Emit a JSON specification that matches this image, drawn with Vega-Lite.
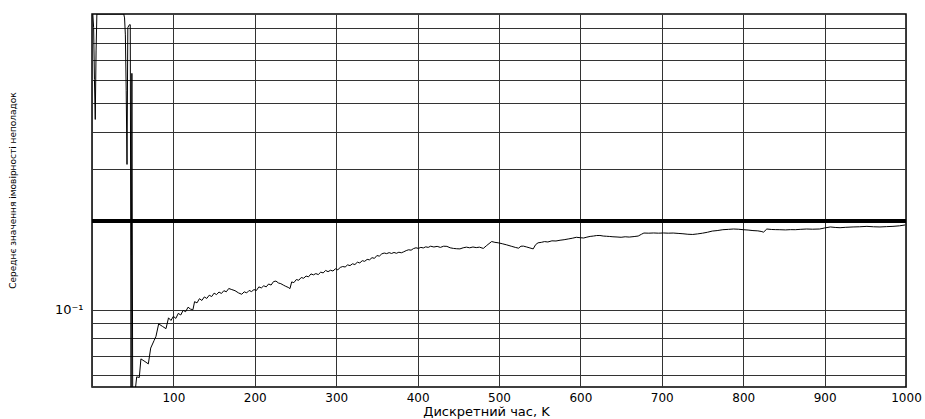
{
  "$schema": "https://vega.github.io/schema/vega-lite/v6.json",
  "width": 814,
  "height": 373,
  "autosize": {"type": "none"},
  "padding": {"left": 92, "top": 14, "right": 19, "bottom": 32},
  "background": "white",
  "config": {
    "view": {"stroke": "black", "strokeWidth": 1.5},
    "font": "DejaVu Sans"
  },
  "data": {
    "values": [
      {"k": 1, "p": 1.0}, {"k": 2, "p": 0.9}, {"k": 3, "p": 0.6}, {"k": 4, "p": 0.44}, {"k": 5, "p": 0.75}, {"k": 6, "p": 1.0},
      {"k": 20, "p": 1.0}, {"k": 39, "p": 1.0}, {"k": 40, "p": 0.97}, {"k": 41, "p": 0.85}, {"k": 42, "p": 0.55}, {"k": 43, "p": 0.31},
      {"k": 44, "p": 0.9}, {"k": 46, "p": 0.92}, {"k": 47, "p": 0.92}, {"k": 48, "p": 0.05}, {"k": 49, "p": 0.63}, {"k": 50, "p": 0.05},
      {"k": 52, "p": 0.05}, {"k": 54.9, "p": 0.0593}, {"k": 58.1, "p": 0.059}, {"k": 60.1, "p": 0.0682}, {"k": 65.1, "p": 0.0668},
      {"k": 69.2, "p": 0.0656}, {"k": 72.1, "p": 0.0742}, {"k": 76.2, "p": 0.0786}, {"k": 78.6, "p": 0.0813}, {"k": 81.9, "p": 0.0896},
      {"k": 86.4, "p": 0.0879}, {"k": 90.9, "p": 0.0863},
      {"k": 94, "p": 0.0939}, {"k": 97, "p": 0.092}, {"k": 100, "p": 0.095}, {"k": 103, "p": 0.0935}, {"k": 106, "p": 0.0972},
      {"k": 109, "p": 0.096}, {"k": 112, "p": 0.0995}, {"k": 115, "p": 0.0985}, {"k": 118, "p": 0.102}, {"k": 121, "p": 0.1005},
      {"k": 124, "p": 0.1}, {"k": 126, "p": 0.1065}, {"k": 129, "p": 0.1055}, {"k": 132, "p": 0.109}, {"k": 135, "p": 0.1075},
      {"k": 138, "p": 0.1105}, {"k": 141, "p": 0.1092}, {"k": 144, "p": 0.112}, {"k": 147, "p": 0.1108}, {"k": 150, "p": 0.1138},
      {"k": 153, "p": 0.1125}, {"k": 156, "p": 0.1148}, {"k": 159, "p": 0.1135}, {"k": 162, "p": 0.116}, {"k": 165, "p": 0.115},
      {"k": 168, "p": 0.118}, {"k": 171, "p": 0.1172}, {"k": 175.7, "p": 0.116}, {"k": 180, "p": 0.114}, {"k": 184, "p": 0.1128},
      {"k": 187, "p": 0.115}, {"k": 190, "p": 0.114}, {"k": 193, "p": 0.1162}, {"k": 196, "p": 0.1152}, {"k": 199, "p": 0.117},
      {"k": 202, "p": 0.1162}, {"k": 205, "p": 0.1195}, {"k": 208, "p": 0.1185}, {"k": 211, "p": 0.1205}, {"k": 214, "p": 0.1195},
      {"k": 217, "p": 0.1222}, {"k": 220, "p": 0.1212}, {"k": 223, "p": 0.1245}, {"k": 226, "p": 0.125}, {"k": 229, "p": 0.1232},
      {"k": 232, "p": 0.1225}, {"k": 235, "p": 0.1212}, {"k": 238, "p": 0.12}, {"k": 241, "p": 0.119}, {"k": 243.2, "p": 0.1179},
      {"k": 245.3, "p": 0.1242}, {"k": 248, "p": 0.1235}, {"k": 251, "p": 0.1265}, {"k": 254, "p": 0.1258}, {"k": 257, "p": 0.1285},
      {"k": 260, "p": 0.1278}, {"k": 263, "p": 0.13}, {"k": 266, "p": 0.1292}, {"k": 269, "p": 0.1322}, {"k": 272, "p": 0.1312},
      {"k": 275, "p": 0.1325}, {"k": 278, "p": 0.1315}, {"k": 281, "p": 0.134}, {"k": 284, "p": 0.1332}, {"k": 287, "p": 0.1358},
      {"k": 290, "p": 0.1345}, {"k": 293, "p": 0.136}, {"k": 296, "p": 0.1352}, {"k": 299, "p": 0.1375}, {"k": 302, "p": 0.1365},
      {"k": 305, "p": 0.139}, {"k": 308, "p": 0.14}, {"k": 311, "p": 0.1395}, {"k": 314, "p": 0.1418}, {"k": 317, "p": 0.141},
      {"k": 320, "p": 0.143}, {"k": 323, "p": 0.1422}, {"k": 326, "p": 0.1448}, {"k": 329, "p": 0.144}, {"k": 332, "p": 0.1465},
      {"k": 335, "p": 0.1458}, {"k": 338, "p": 0.148}, {"k": 341, "p": 0.1475}, {"k": 344, "p": 0.15}, {"k": 347, "p": 0.1492},
      {"k": 350, "p": 0.1525}, {"k": 353, "p": 0.1518}, {"k": 356, "p": 0.1545}, {"k": 359, "p": 0.1555}, {"k": 362, "p": 0.1548},
      {"k": 365, "p": 0.156}, {"k": 368, "p": 0.155}, {"k": 371, "p": 0.1562}, {"k": 374, "p": 0.1552}, {"k": 377, "p": 0.1565},
      {"k": 380, "p": 0.1558}, {"k": 383, "p": 0.157}, {"k": 386, "p": 0.1585}, {"k": 389, "p": 0.1595}, {"k": 392, "p": 0.159},
      {"k": 395, "p": 0.161}, {"k": 398, "p": 0.162}, {"k": 401, "p": 0.1612}, {"k": 404, "p": 0.1625}, {"k": 407, "p": 0.1618},
      {"k": 410, "p": 0.1632}, {"k": 413, "p": 0.1625}, {"k": 416, "p": 0.164}, {"k": 420, "p": 0.163}, {"k": 424, "p": 0.1638},
      {"k": 428, "p": 0.1625}, {"k": 432, "p": 0.164}, {"k": 436, "p": 0.1638}, {"k": 440, "p": 0.162}, {"k": 444, "p": 0.1612},
      {"k": 448, "p": 0.1608}, {"k": 452, "p": 0.1606}, {"k": 456, "p": 0.162}, {"k": 460, "p": 0.1628}, {"k": 464, "p": 0.162},
      {"k": 468, "p": 0.163}, {"k": 472, "p": 0.1622}, {"k": 476, "p": 0.1628}, {"k": 480.7, "p": 0.1612}, {"k": 485, "p": 0.165},
      {"k": 491, "p": 0.1701}, {"k": 495, "p": 0.169}, {"k": 499, "p": 0.1684}, {"k": 504, "p": 0.1672}, {"k": 509.5, "p": 0.1657},
      {"k": 515, "p": 0.164}, {"k": 520, "p": 0.1625}, {"k": 524, "p": 0.1615}, {"k": 527, "p": 0.164}, {"k": 530, "p": 0.1641},
      {"k": 534, "p": 0.163}, {"k": 538, "p": 0.1618}, {"k": 542, "p": 0.1606}, {"k": 545, "p": 0.166}, {"k": 548, "p": 0.1684},
      {"k": 552, "p": 0.169}, {"k": 556, "p": 0.17}, {"k": 560, "p": 0.1695}, {"k": 565, "p": 0.171}, {"k": 570, "p": 0.1708},
      {"k": 575, "p": 0.1718}, {"k": 580, "p": 0.1725}, {"k": 585, "p": 0.1735}, {"k": 590, "p": 0.1745}, {"k": 595, "p": 0.1758},
      {"k": 600, "p": 0.1752}, {"k": 604, "p": 0.1748}, {"k": 608, "p": 0.176}, {"k": 612, "p": 0.177}, {"k": 616, "p": 0.1775},
      {"k": 620, "p": 0.1782}, {"k": 624, "p": 0.1783}, {"k": 628, "p": 0.1775}, {"k": 632, "p": 0.1772}, {"k": 636, "p": 0.1769},
      {"k": 640, "p": 0.1765}, {"k": 645, "p": 0.1762}, {"k": 650, "p": 0.1758}, {"k": 655, "p": 0.1765}, {"k": 660, "p": 0.1761},
      {"k": 666, "p": 0.1768}, {"k": 671, "p": 0.1775}, {"k": 675, "p": 0.18}, {"k": 678, "p": 0.1817}, {"k": 684, "p": 0.1815},
      {"k": 690, "p": 0.1818}, {"k": 696, "p": 0.1815}, {"k": 702, "p": 0.1818}, {"k": 708, "p": 0.1815}, {"k": 714, "p": 0.1817},
      {"k": 720, "p": 0.1812}, {"k": 726, "p": 0.1807}, {"k": 732, "p": 0.18}, {"k": 738, "p": 0.1797}, {"k": 744, "p": 0.1805},
      {"k": 750, "p": 0.1815}, {"k": 756, "p": 0.1828}, {"k": 762, "p": 0.1845}, {"k": 768, "p": 0.1852}, {"k": 775, "p": 0.1865},
      {"k": 782, "p": 0.187}, {"k": 788, "p": 0.1875}, {"k": 794, "p": 0.1872}, {"k": 800, "p": 0.1865}, {"k": 806, "p": 0.186},
      {"k": 812, "p": 0.1852}, {"k": 818, "p": 0.1848}, {"k": 822, "p": 0.184}, {"k": 825, "p": 0.183}, {"k": 829, "p": 0.1875},
      {"k": 835, "p": 0.1868}, {"k": 840, "p": 0.1866}, {"k": 845, "p": 0.1865}, {"k": 852, "p": 0.1862}, {"k": 858, "p": 0.1866},
      {"k": 864, "p": 0.1865}, {"k": 870, "p": 0.187}, {"k": 878, "p": 0.1875}, {"k": 885, "p": 0.1872}, {"k": 894, "p": 0.1875},
      {"k": 900, "p": 0.189}, {"k": 907, "p": 0.1905}, {"k": 913, "p": 0.1898}, {"k": 919, "p": 0.1894}, {"k": 926, "p": 0.19},
      {"k": 935, "p": 0.1905}, {"k": 943, "p": 0.1908}, {"k": 952, "p": 0.1914}, {"k": 960, "p": 0.1908}, {"k": 968, "p": 0.1905},
      {"k": 976, "p": 0.191}, {"k": 984, "p": 0.1914}, {"k": 992, "p": 0.1922}, {"k": 999, "p": 0.1935}
    ]
  },
  "layer": [
    {
      "mark": {"type": "line", "color": "black", "strokeWidth": 1, "clip": true},
      "encoding": {
        "x": {
          "field": "k", "type": "quantitative",
          "scale": {"domain": [0, 1000], "nice": false},
          "axis": {
            "values": [0, 100, 200, 300, 400, 500, 600, 700, 800, 900, 1000],
            "labelExpr": "datum.value == 0 ? '' : datum.label",
            "format": "d",
            "grid": true, "gridColor": "#333", "gridOpacity": 1, "gridWidth": 1,
            "ticks": false, "domain": false,
            "labelFlush": false, "labelFont": "DejaVu Sans", "labelFontSize": 12, "labelColor": "black", "labelPadding": 5,
            "title": "Дискретний час,  K", "titleFont": "DejaVu Sans", "titleFontSize": 13, "titleFontWeight": "normal",
            "titleColor": "black", "titleX": 394, "titleY": 28, "titleBaseline": "alphabetic", "titleAnchor": null
          }
        },
        "y": {
          "field": "p", "type": "quantitative",
          "scale": {"type": "log", "domain": [0.0548, 1.0], "nice": false},
          "axis": {
            "values": [0.06, 0.07, 0.08, 0.09, 0.1, 0.2, 0.3, 0.4, 0.5, 0.6, 0.7, 0.8, 0.9],
            "labelExpr": "datum.value == 0.1 ? '10⁻¹' : ''",
            "grid": true, "gridColor": "#333", "gridOpacity": 1, "gridWidth": 1,
            "ticks": false, "domain": false,
            "labelFont": "DejaVu Sans", "labelFontSize": 13, "labelColor": "black", "labelPadding": 9,
            "title": "Середнє значення  імовірності неполадок", "titleFont": "DejaVu Sans", "titleFontSize": 9,
            "titleFontWeight": "normal", "titleColor": "black", "titleX": -80, "titleY": 176,
            "titleAlign": "center", "titleBaseline": "middle", "titleAngle": -90
          }
        }
      }
    },
    {
      "mark": {"type": "rule", "color": "black", "strokeWidth": 3},
      "encoding": {"y": {"datum": 0.2}}
    }
  ]
}
